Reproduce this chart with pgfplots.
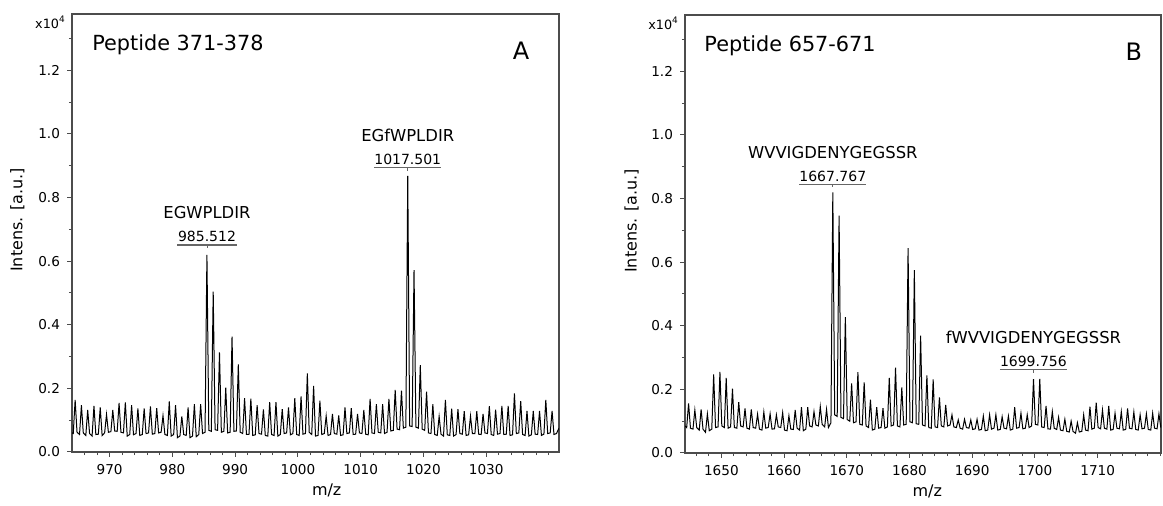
\documentclass[border=0pt]{standalone}
\usepackage{fontspec}
\setmainfont{DejaVu Sans}
\usepackage{pgfplots}
\pgfplotsset{compat=1.18}

\pgfplotsset{ms/.style={
  scale only axis, height=219pt, anchor=south west,
  clip mode=individual,
  ymin=0, ymax=1.377,
  ytick={0,0.2,0.4,0.6,0.8,1.0,1.2},
  minor ytick={0.1,0.3,0.5,0.7,0.9,1.1,1.3},
  tick align=outside, tick pos=left,
  major tick length=2.5pt, minor tick length=1.6pt,
  every tick/.style={black!70, line width=0.5pt},
  axis line style={black!70, line width=0.6pt},
  scaled x ticks=false, scaled y ticks=false,
  /pgf/number format/assume math mode=true,
  xticklabel style={/pgf/number format/1000 sep={}},
  yticklabel style={/pgf/number format/.cd, fixed, fixed zerofill, precision=1},
  tick label style={font=\fontsize{6.8}{8}\selectfont},
  label style={font=\fontsize{8}{9.5}\selectfont},
  xlabel={m/z}, ylabel={Intens. [a.u.]},
  ylabel style={at={(axis description cs:-0.112,0.53)}, anchor=center},
}}

% label for one peak: x, y of bracket, name, mass, half width of bracket
\newcommand\peaklabel[5]{%
  \draw[black!60, line width=0.6pt] ([xshift=-#5]axis cs:#1,#2) -- ([xshift=#5]axis cs:#1,#2);
  \draw[black!60, line width=0.5pt] (axis cs:#1,#2) -- ([yshift=-1.6pt]axis cs:#1,#2);
  \node[anchor=base, inner sep=0pt, yshift=1.6pt,
        font=\fontsize{7}{8}\selectfont] at (axis cs:#1,#2) {#4};
  \node[anchor=base, inner sep=0pt, yshift=13pt,
        font=\fontsize{8.2}{9.5}\selectfont] at (axis cs:#1,#2) {#3};
}

\begin{document}
\begin{tikzpicture}
\path[use as bounding box] (0,0) rectangle (581.5pt,253pt);

% ---------------- panel A
\begin{axis}[ms, at={(36pt,27pt)}, width=243.5pt,
  xmin=964, xmax=1041.6,
  xtick={970,980,...,1030}, minor xtick={966,968,...,1040},
  xlabel style={at={(axis description cs:0.523,-0.087)}, anchor=center}]
\addplot[black, line width=0.5pt] coordinates {
(964.0,0.060) (964.2,0.058) (964.5,0.164) (964.8,0.062)
(965.2,0.055) (965.5,0.147) (965.8,0.060)
(966.2,0.052) (966.5,0.132) (966.8,0.058)
(967.2,0.050) (967.5,0.145) (967.8,0.055)
(968.2,0.056) (968.5,0.140) (968.8,0.052)
(969.2,0.060) (969.5,0.118) (969.8,0.062)
(970.2,0.064) (970.5,0.132) (970.8,0.066)
(971.2,0.065) (971.5,0.154) (971.8,0.062)
(972.2,0.060) (972.5,0.156) (972.8,0.050)
(973.2,0.055) (973.5,0.147) (973.8,0.054)
(974.2,0.058) (974.5,0.137) (974.8,0.052)
(975.2,0.055) (975.5,0.137) (975.8,0.058)
(976.2,0.060) (976.5,0.143) (976.8,0.056)
(977.2,0.058) (977.5,0.138) (977.8,0.060)
(978.2,0.062) (978.5,0.114) (978.8,0.055)
(979.2,0.052) (979.5,0.159) (979.8,0.050)
(980.2,0.055) (980.5,0.147) (980.8,0.045)
(981.2,0.050) (981.5,0.112) (981.8,0.055)
(982.2,0.052) (982.5,0.140) (982.8,0.045)
(983.2,0.050) (983.5,0.150) (983.8,0.048)
(984.2,0.055) (984.5,0.150) (984.8,0.058)
(985.2,0.062) (985.5,0.620) (985.8,0.068)
(986.2,0.065) (986.5,0.504) (986.8,0.070)
(987.2,0.068) (987.5,0.313) (987.8,0.062)
(988.2,0.065) (988.5,0.202) (988.8,0.060)
(989.2,0.062) (989.5,0.363) (989.8,0.065)
(990.2,0.066) (990.5,0.275) (990.8,0.062)
(991.2,0.058) (991.5,0.169) (991.8,0.055)
(992.2,0.055) (992.5,0.168) (992.8,0.052)
(993.2,0.054) (993.5,0.147) (993.8,0.058)
(994.2,0.056) (994.5,0.134) (994.8,0.052)
(995.2,0.050) (995.5,0.157) (995.8,0.055)
(996.2,0.052) (996.5,0.157) (996.8,0.050)
(997.2,0.055) (997.5,0.135) (997.8,0.058)
(998.2,0.060) (998.5,0.140) (998.8,0.054)
(999.2,0.058) (999.5,0.169) (999.8,0.055)
(1000.2,0.052) (1000.5,0.175) (1000.8,0.056)
(1001.2,0.058) (1001.5,0.247) (1001.8,0.062)
(1002.2,0.055) (1002.5,0.208) (1002.8,0.050)
(1003.2,0.052) (1003.5,0.161) (1003.8,0.055)
(1004.2,0.058) (1004.5,0.113) (1004.8,0.052)
(1005.2,0.055) (1005.5,0.120) (1005.8,0.058)
(1006.2,0.056) (1006.5,0.115) (1006.8,0.052)
(1007.2,0.054) (1007.5,0.140) (1007.8,0.058)
(1008.2,0.060) (1008.5,0.138) (1008.8,0.055)
(1009.2,0.056) (1009.5,0.120) (1009.8,0.060)
(1010.2,0.058) (1010.5,0.132) (1010.8,0.056)
(1011.2,0.054) (1011.5,0.167) (1011.8,0.060)
(1012.2,0.058) (1012.5,0.150) (1012.8,0.062)
(1013.2,0.060) (1013.5,0.150) (1013.8,0.058)
(1014.2,0.062) (1014.5,0.167) (1014.8,0.066)
(1015.2,0.068) (1015.5,0.195) (1015.8,0.072)
(1016.2,0.070) (1016.5,0.193) (1016.8,0.075)
(1017.2,0.078) (1017.5,0.868) (1017.8,0.082)
(1018.2,0.080) (1018.5,0.572) (1018.8,0.078)
(1019.2,0.075) (1019.5,0.273) (1019.8,0.072)
(1020.2,0.068) (1020.5,0.190) (1020.8,0.060)
(1021.2,0.058) (1021.5,0.150) (1021.8,0.055)
(1022.2,0.052) (1022.5,0.112) (1022.8,0.056)
(1023.2,0.050) (1023.5,0.164) (1023.8,0.054)
(1024.2,0.052) (1024.5,0.136) (1024.8,0.050)
(1025.2,0.055) (1025.5,0.135) (1025.8,0.058)
(1026.2,0.056) (1026.5,0.128) (1026.8,0.052)
(1027.2,0.054) (1027.5,0.113) (1027.8,0.058)
(1028.2,0.058) (1028.5,0.128) (1028.8,0.056)
(1029.2,0.055) (1029.5,0.120) (1029.8,0.060)
(1030.2,0.058) (1030.5,0.144) (1030.8,0.055)
(1031.2,0.052) (1031.5,0.133) (1031.8,0.056)
(1032.2,0.058) (1032.5,0.145) (1032.8,0.055)
(1033.2,0.056) (1033.5,0.145) (1033.8,0.052)
(1034.2,0.054) (1034.5,0.184) (1034.8,0.058)
(1035.2,0.060) (1035.5,0.160) (1035.8,0.055)
(1036.2,0.052) (1036.5,0.129) (1036.8,0.050)
(1037.2,0.054) (1037.5,0.129) (1037.8,0.056)
(1038.2,0.055) (1038.5,0.129) (1038.8,0.052)
(1039.2,0.056) (1039.5,0.164) (1039.8,0.058)
(1040.2,0.060) (1040.5,0.129) (1040.8,0.055)
(1041.2,0.058) (1041.6,0.075)
};
\peaklabel{985.512}{0.651}{EGWPLDIR}{985.512}{14.8pt}
\peaklabel{1017.501}{0.894}{EGfWPLDIR}{1017.501}{16.8pt}
\node[anchor=base west, inner sep=0pt, font=\fontsize{10.4}{12}\selectfont]
  at (axis description cs:0.041,0.916) {Peptide 371-378};
\node[anchor=base, inner sep=0pt, font=\fontsize{12}{14}\selectfont]
  at (axis description cs:0.922,0.895) {A};
\node[anchor=base east, inner sep=0pt, font=\fontsize{6.4}{7}\selectfont]
  at (axis description cs:-0.012,0.968) {x10\textsuperscript{4}};
\end{axis}

% ---------------- panel B
\begin{axis}[ms, at={(342.5pt,26.5pt)}, width=238pt,
  xmin=1644.2, xmax=1720.1,
  xtick={1650,1660,...,1710}, minor xtick={1646,1648,...,1720},
  xlabel style={at={(axis description cs:0.509,-0.087)}, anchor=center}]
\addplot[black, line width=0.5pt] coordinates {
(1644.2,0.085)
(1644.47,0.080) (1644.77,0.156) (1645.07,0.078)
(1645.47,0.075) (1645.77,0.135) (1646.07,0.080)
(1646.47,0.072) (1646.77,0.137) (1647.07,0.075)
(1647.47,0.065) (1647.77,0.123) (1648.07,0.070)
(1648.47,0.075) (1648.77,0.247) (1649.07,0.080)
(1649.47,0.082) (1649.77,0.255) (1650.07,0.085)
(1650.47,0.080) (1650.77,0.236) (1651.07,0.078)
(1651.47,0.082) (1651.77,0.202) (1652.07,0.080)
(1652.47,0.078) (1652.77,0.160) (1653.07,0.085)
(1653.47,0.082) (1653.77,0.140) (1654.07,0.078)
(1654.47,0.075) (1654.77,0.137) (1655.07,0.080)
(1655.47,0.078) (1655.77,0.122) (1656.07,0.075)
(1656.47,0.072) (1656.77,0.129) (1657.07,0.078)
(1657.47,0.080) (1657.77,0.123) (1658.07,0.075)
(1658.47,0.076) (1658.77,0.120) (1659.07,0.082)
(1659.47,0.080) (1659.77,0.127) (1660.07,0.072)
(1660.47,0.070) (1660.77,0.117) (1661.07,0.075)
(1661.47,0.074) (1661.77,0.135) (1662.07,0.078)
(1662.47,0.072) (1662.77,0.144) (1663.07,0.070)
(1663.47,0.075) (1663.77,0.144) (1664.07,0.085)
(1664.47,0.082) (1664.77,0.130) (1665.07,0.088)
(1665.47,0.085) (1665.77,0.146) (1666.07,0.090)
(1666.47,0.082) (1666.77,0.137) (1667.07,0.080)
(1667.47,0.095) (1667.77,0.819) (1668.07,0.120)
(1668.47,0.115) (1668.77,0.746) (1669.07,0.112)
(1669.47,0.108) (1669.77,0.427) (1670.07,0.105)
(1670.47,0.100) (1670.77,0.219) (1671.07,0.095)
(1671.47,0.098) (1671.77,0.254) (1672.07,0.090)
(1672.47,0.088) (1672.77,0.222) (1673.07,0.085)
(1673.47,0.080) (1673.77,0.168) (1674.07,0.072)
(1674.47,0.075) (1674.77,0.144) (1675.07,0.078)
(1675.47,0.080) (1675.77,0.141) (1676.07,0.078)
(1676.47,0.082) (1676.77,0.236) (1677.07,0.085)
(1677.47,0.088) (1677.77,0.268) (1678.07,0.085)
(1678.47,0.082) (1678.77,0.206) (1679.07,0.088)
(1679.47,0.090) (1679.77,0.644) (1680.07,0.098)
(1680.47,0.095) (1680.77,0.575) (1681.07,0.092)
(1681.47,0.090) (1681.77,0.369) (1682.07,0.088)
(1682.47,0.085) (1682.77,0.244) (1683.07,0.080)
(1683.47,0.078) (1683.77,0.231) (1684.07,0.082)
(1684.47,0.080) (1684.77,0.175) (1685.07,0.085)
(1685.47,0.082) (1685.77,0.151) (1686.07,0.085)
(1686.47,0.088) (1686.77,0.120) (1687.07,0.082)
(1687.47,0.080) (1687.77,0.104) (1688.07,0.078)
(1688.47,0.075) (1688.77,0.106) (1689.07,0.080)
(1689.47,0.078) (1689.77,0.104) (1690.07,0.074)
(1690.47,0.076) (1690.77,0.106) (1691.07,0.072)
(1691.47,0.074) (1691.77,0.116) (1692.07,0.070)
(1692.47,0.072) (1692.77,0.120) (1693.07,0.075)
(1693.47,0.078) (1693.77,0.120) (1694.07,0.072)
(1694.47,0.074) (1694.77,0.114) (1695.07,0.078)
(1695.47,0.076) (1695.77,0.116) (1696.07,0.072)
(1696.47,0.075) (1696.77,0.144) (1697.07,0.078)
(1697.47,0.080) (1697.77,0.125) (1698.07,0.076)
(1698.47,0.078) (1698.77,0.120) (1699.07,0.080)
(1699.47,0.085) (1699.77,0.232) (1700.07,0.090)
(1700.47,0.088) (1700.77,0.233) (1701.07,0.082)
(1701.47,0.080) (1701.77,0.148) (1702.07,0.076)
(1702.47,0.075) (1702.77,0.130) (1703.07,0.078)
(1703.47,0.074) (1703.77,0.112) (1704.07,0.072)
(1704.47,0.070) (1704.77,0.106) (1705.07,0.068)
(1705.47,0.066) (1705.77,0.100) (1706.07,0.068)
(1706.47,0.062) (1706.77,0.095) (1707.07,0.066)
(1707.47,0.068) (1707.77,0.120) (1708.07,0.072)
(1708.47,0.070) (1708.77,0.146) (1709.07,0.075)
(1709.47,0.078) (1709.77,0.158) (1710.07,0.080)
(1710.47,0.076) (1710.77,0.135) (1711.07,0.078)
(1711.47,0.075) (1711.77,0.148) (1712.07,0.072)
(1712.47,0.074) (1712.77,0.125) (1713.07,0.078)
(1713.47,0.076) (1713.77,0.130) (1714.07,0.072)
(1714.47,0.074) (1714.77,0.140) (1715.07,0.078)
(1715.47,0.076) (1715.77,0.129) (1716.07,0.074)
(1716.47,0.072) (1716.77,0.120) (1717.07,0.076)
(1717.47,0.078) (1717.77,0.123) (1718.07,0.074)
(1718.47,0.072) (1718.77,0.125) (1719.07,0.078)
(1719.47,0.076) (1719.77,0.123) (1720.07,0.080)
};
\peaklabel{1667.767}{0.845}{WVVIGDENYGEGSSR}{1667.767}{16.8pt}
\peaklabel{1699.756}{0.263}{fWVVIGDENYGEGSSR}{1699.756}{16.8pt}
\node[anchor=base west, inner sep=0pt, font=\fontsize{10.4}{12}\selectfont]
  at (axis description cs:0.040,0.916) {Peptide 657-671};
\node[anchor=base, inner sep=0pt, font=\fontsize{12}{14}\selectfont]
  at (axis description cs:0.943,0.895) {B};
\node[anchor=base east, inner sep=0pt, font=\fontsize{6.4}{7}\selectfont]
  at (axis description cs:-0.012,0.968) {x10\textsuperscript{4}};
\end{axis}
\end{tikzpicture}
\end{document}
